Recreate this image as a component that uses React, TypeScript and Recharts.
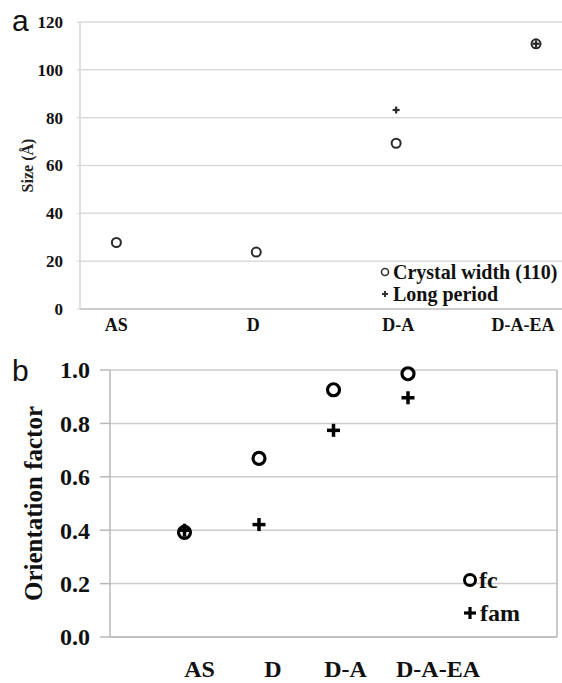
import React from "react";
import {
  ScatterChart,
  Scatter,
  XAxis,
  YAxis,
  CartesianGrid,
  ReferenceLine,
} from "recharts";

const samples = ["AS", "D", "D-A", "D-A-EA"];
const crystalWidth = [27.8, 23.8, 69.3, 110.9];
const longPeriod = [null, null, 83.2, 110.9];
const sizeTicks = [0, 20, 40, 60, 80, 100, 120];

const fc = [0.392, 0.669, 0.926, 0.986];
const fam = [0.4, 0.421, 0.774, 0.896];
const orientTicks = [0, 0.2, 0.4, 0.6, 0.8, 1.0];

const toPoints = (vals: (number | null)[]) =>
  vals
    .map((v, i) => (v == null ? null : { x: i + 1, y: v, name: samples[i] }))
    .filter(Boolean) as { x: number; y: number; name: string }[];

const serif = "'Liberation Serif', 'Times New Roman', serif";
const sans = "'Liberation Sans', Arial, sans-serif";

const OpenCircle = (r: number, sw: number, color: string) => (props: any) => {
  const { cx, cy } = props;
  if (cx == null || cy == null) return <g />;
  return <circle cx={cx} cy={cy} r={r} fill="none" stroke={color} strokeWidth={sw} />;
};

const Plus = (arm: number, sw: number, color: string) => (props: any) => {
  const { cx, cy } = props;
  if (cx == null || cy == null) return <g />;
  return (
    <g stroke={color} strokeWidth={sw}>
      <line x1={cx - arm} y1={cy} x2={cx + arm} y2={cy} />
      <line x1={cx} y1={cy - arm} x2={cx} y2={cy + arm} />
    </g>
  );
};

// small horizontal nudges so the category names sit where the original put them
const shiftA = [0, -3, 2, -13];
const shiftB = [15, 14, 12, 30];

const makeXTick = (shift: number[], size: number) => (props: any) => {
  const { x, y, payload, index } = props;
  return (
    <text
      x={x + (shift[index] ?? 0)}
      y={y}
      dy="0.35em"
      textAnchor="middle"
      style={{ fontFamily: serif, fontWeight: 700, fontSize: size, fill: "#111" }}
    >
      {samples[payload.value - 1]}
    </text>
  );
};

const makeYTick = (size: number, digits: number) => (props: any) => {
  const { x, y, payload } = props;
  return (
    <text
      x={x}
      y={y}
      dy="0.35em"
      textAnchor="end"
      style={{ fontFamily: serif, fontWeight: 700, fontSize: size, fill: "#111" }}
    >
      {Number(payload.value).toFixed(digits)}
    </text>
  );
};

const XTickA = makeXTick(shiftA, 18);
const XTickB = makeXTick(shiftB, 24);
const YTickA = makeYTick(17, 0);
const YTickB = makeYTick(24, 1);

const LegendRow = ({ left, cy, h, size, marker, text }: any) => (
  <div
    style={{
      position: "absolute",
      left,
      top: cy - h / 2,
      height: h,
      display: "flex",
      alignItems: "center",
      fontFamily: serif,
      fontWeight: "bold",
      fontSize: size,
      color: "#111",
      whiteSpace: "nowrap",
    }}
  >
    {marker}
    {text}
  </div>
);

export default function App() {
  return (
    <div
      style={{
        position: "fixed",
        left: 0,
        top: 0,
        width: 562,
        height: 683,
        overflow: "hidden",
        background: "#fff",
      }}
    >
      {/* panel a */}
      <div style={{ position: "absolute", left: 0, top: 0 }}>
        <ScatterChart width={581} height={340} margin={{ top: 22, right: 10, left: 18, bottom: 6 }}>
          <CartesianGrid vertical={false} stroke="#dadada" strokeWidth={1.5} />
          <XAxis
            type="number"
            dataKey="x"
            domain={[0.74, 4.25]}
            ticks={[1, 2, 3, 4]}
            tick={<XTickA />}
            tickLine={false}
            tickSize={0}
            tickMargin={16}
            height={25}
            axisLine={{ stroke: "#c4c4c4", strokeWidth: 1.5 }}
          />
          <YAxis
            type="number"
            dataKey="y"
            domain={[0, 120]}
            ticks={sizeTicks}
            tick={<YTickA />}
            tickLine={{ stroke: "#d0d0d0" }}
            tickSize={3}
            tickMargin={14}
            width={62}
            axisLine={{ stroke: "#d6d6d6", strokeWidth: 1.5 }}
            label={{
              value: "Size (Å)",
              angle: -90,
              position: "insideLeft",
              offset: 0,
              dx: 9,
              style: { fontFamily: serif, fontWeight: "bold", fontSize: 16, fill: "#222", textAnchor: "middle" },
            }}
          />
          <Scatter
            name="Crystal width (110)"
            data={toPoints(crystalWidth)}
            shape={OpenCircle(4.5, 2, "#2a2a2a")}
            isAnimationActive={false}
          />
          <Scatter
            name="Long period"
            data={toPoints(longPeriod)}
            shape={Plus(3.5, 2.2, "#2a2a2a")}
            isAnimationActive={false}
          />
        </ScatterChart>
        <LegendRow
          left={379}
          cy={272}
          h={22}
          size={20}
          marker={
            <svg width={13} height={12} style={{ marginRight: 1 }}>
              <circle cx={6} cy={6} r={3.5} fill="none" stroke="#333" strokeWidth={1.6} />
            </svg>
          }
          text="Crystal width (110)"
        />
        <LegendRow
          left={379}
          cy={294}
          h={22}
          size={20}
          marker={
            <svg width={13} height={12} style={{ marginRight: 1 }}>
              <g stroke="#333" strokeWidth={2}>
                <line x1={3} y1={6} x2={9} y2={6} />
                <line x1={6} y1={3} x2={6} y2={9} />
              </g>
            </svg>
          }
          text="Long period"
        />
        <div
          style={{
            position: "absolute",
            left: 12,
            top: 4,
            fontFamily: sans,
            fontSize: 30,
            lineHeight: "34px",
            color: "#111",
          }}
        >
          a
        </div>
      </div>

      {/* panel b */}
      <div style={{ position: "absolute", left: 0, top: 340 }}>
        <ScatterChart width={562} height={343} margin={{ top: 30, right: 5, left: 40, bottom: 6 }}>
          <CartesianGrid vertical={false} stroke="#cccccc" strokeWidth={1.5} />
          <XAxis
            type="number"
            dataKey="x"
            domain={[0, 6]}
            ticks={[1, 2, 3, 4]}
            tick={<XTickB />}
            tickLine={false}
            tickSize={0}
            tickMargin={32}
            height={40}
            axisLine={{ stroke: "#b8b8b8", strokeWidth: 1.5 }}
          />
          <YAxis
            type="number"
            dataKey="y"
            domain={[0, 1]}
            ticks={orientTicks}
            tick={<YTickB />}
            tickLine={{ stroke: "#b8b8b8", strokeWidth: 1.5 }}
            tickSize={10}
            tickMargin={10}
            width={70}
            axisLine={{ stroke: "#b8b8b8", strokeWidth: 1.5 }}
            label={{
              value: "Orientation factor",
              angle: -90,
              position: "insideLeft",
              offset: 0,
              dx: -7,
              style: { fontFamily: serif, fontWeight: "bold", fontSize: 25, fill: "#111", textAnchor: "middle" },
            }}
          />
          <ReferenceLine x={6} stroke="#b8b8b8" strokeWidth={1.5} ifOverflow="visible" />
          <Scatter name="fc" data={toPoints(fc)} shape={OpenCircle(6, 3.2, "#000")} isAnimationActive={false} />
          <Scatter name="fam" data={toPoints(fam)} shape={Plus(6.5, 3.5, "#000")} isAnimationActive={false} />
        </ScatterChart>
        <LegendRow
          left={462}
          cy={240}
          h={30}
          size={24}
          marker={
            <svg width={17} height={18} style={{ marginRight: 0 }}>
              <circle cx={8} cy={9} r={5.5} fill="none" stroke="#000" strokeWidth={3} />
            </svg>
          }
          text="fc"
        />
        <LegendRow
          left={462}
          cy={273}
          h={30}
          size={24}
          marker={
            <svg width={17} height={18} style={{ marginRight: 1 }}>
              <g stroke="#000" strokeWidth={3.2}>
                <line x1={2} y1={9} x2={14} y2={9} />
                <line x1={8} y1={3} x2={8} y2={15} />
              </g>
            </svg>
          }
          text="fam"
        />
        <div
          style={{
            position: "absolute",
            left: 12,
            top: 14,
            fontFamily: sans,
            fontSize: 30,
            lineHeight: "34px",
            color: "#111",
          }}
        >
          b
        </div>
      </div>
    </div>
  );
}
